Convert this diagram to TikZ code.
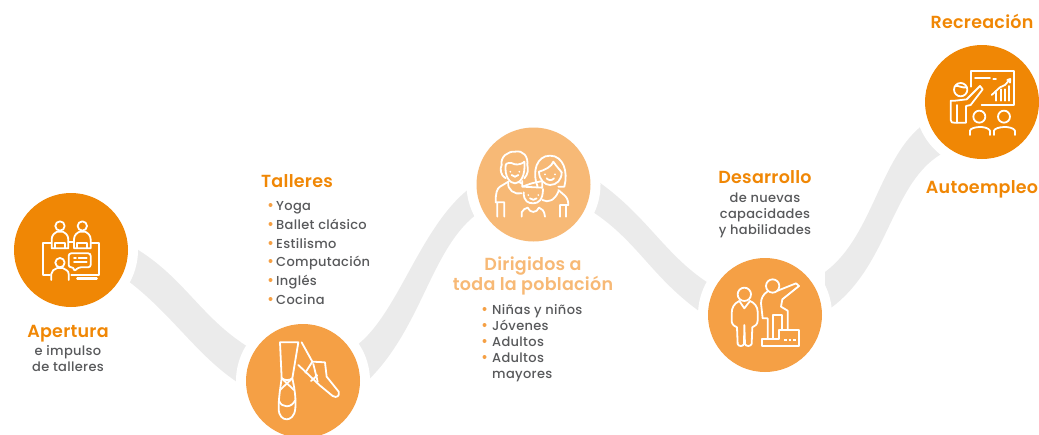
\documentclass[tikz,border=0pt]{standalone}
\usepackage{fontspec}
\setmainfont{Poppins}
\newfontfamily\bodyface[LetterSpace=2.5]{Poppins Medium}
\newfontfamily\titleface[LetterSpace=1.5]{Poppins SemiBold}
\definecolor{deep}{HTML}{F08705}
\definecolor{mid}{HTML}{F5A045}
\definecolor{pale}{HTML}{F7B976}
\definecolor{band}{HTML}{EBEBEB}
\definecolor{ink}{HTML}{58595B}
\tikzset{
  x=1pt,y=-1pt,
  disc/.style={circle,inner sep=0pt,minimum size=114pt},
  ring/.style={fill=white,draw=none},
  ribbon/.style={fill=band,draw=none},
  icon/.style={draw=white,line width=1.8pt,line join=round,line cap=round,fill=none},
  title/.style={font=\fontsize{17.5}{18}\titleface,text=deep,inner sep=0pt,text height=13pt,text depth=4pt,yshift=-2pt},
  body/.style={font=\fontsize{13}{13}\bodyface,text=ink,inner sep=0pt,text height=9pt,text depth=3pt,yshift=-2pt},
  lbody/.style={body,anchor=west},
  zoomed/.style={x=0.3333pt,y=-0.3333pt}
}
\begin{document}
\begin{tikzpicture}
\useasboundingbox (0,0) rectangle (1039,434);
% ribbons
\fill[ribbon] (128,244) .. controls (185,275) and (200,320) .. (255,351) -- (240,384) .. controls (195,355) and (170,310) .. (120,275) -- cycle;
\fill[ribbon] (350,350) .. controls (400,320) and (420,215) .. (482,180) -- (486,208) .. controls (430,240) and (425,330) .. (362,386) -- cycle;
\fill[ribbon] (590,176) .. controls (650,215) and (665,260) .. (720,290) -- (712,320) .. controls (650,280) and (640,240) .. (585,207) -- cycle;
\fill[ribbon] (825,272) .. controls (875,235) and (880,150) .. (930,120) -- (945,152) .. controls (890,180) and (890,270) .. (825,312) -- cycle;
% white rings
\fill[ring] (71,250) circle (67);
\fill[ring] (303,381) circle (67);
\fill[ring] (533.5,184.5) circle (67);
\fill[ring] (765,315) circle (67);
\fill[ring] (982,102) circle (67);
% discs
\node[disc,fill=deep] (d1) at (71,250) {};
\node[disc,fill=mid] (d2) at (303,381) {};
\node[disc,fill=pale] (d3) at (533.5,184.5) {};
\node[disc,fill=mid] (d4) at (765,315) {};
\node[disc,fill=deep] (d5) at (982,102) {};
% icon 1
\begin{scope}[shift={(0,180)},zoomed]
\draw[icon] (180,138) circle (14);
\draw[icon] (247,138) circle (14);
\draw[icon] (155,205) -- (155,178) .. controls (155,165) and (165,158) .. (172,155) -- (188,155) .. controls (195,158) and (205,165) .. (205,178) -- (205,205) -- cycle;
\draw[icon] (222,205) -- (222,178) .. controls (222,165) and (232,158) .. (239,155) -- (255,155) .. controls (262,158) and (272,165) .. (272,178) -- (272,205) -- cycle;
\draw[icon] (205,185) -- (222,185);
\draw[icon] (165,205) -- (165,190) -- (195,190) -- (195,205);
\draw[icon] (232,205) -- (232,190) -- (262,190) -- (262,205);
\draw[icon] (152,188) -- (128,188) -- (128,285) -- (150,285);
\draw[icon] (275,188) -- (298,188) -- (298,285) -- (214,285);
\draw[icon,line width=2.4pt] (232,295) -- (290,295);
\draw[icon] (180,248) circle (14);
\draw[icon] (154,300) -- (154,282) .. controls (154,272) and (163,268) .. (172,264) -- (188,264) .. controls (196,268) and (206,272) .. (206,282) -- (206,300);
\draw[icon,rounded corners=2.5pt] (222,262) -- (206,262) -- (206,220) -- (272,220) -- (272,262) -- (235,262) -- (222,275) -- cycle;
\draw[icon] (222,235) -- (228,235) (236,235) -- (260,235) (222,247) -- (260,247);
\end{scope}
% icon 2
\begin{scope}[shift={(230,310)},zoomed]
\draw[icon] (150,97) -- (205,97) -- (187,205) .. controls (195,240) and (198,270) .. (196,295) .. controls (194,320) and (180,328) .. (170,328) .. controls (158,328) and (146,318) .. (146,295) .. controls (146,265) and (150,240) .. (155,205) -- cycle;
\draw[icon] (155,205) -- (192,240) (187,205) -- (150,240);
\draw[icon] (155,205) .. controls (165,212) and (178,212) .. (187,205);
\draw[icon] (147,272) .. controls (155,295) and (185,295) .. (196,270);
\draw[icon] (215,97) -- (247,155) -- (285,157) -- (290,200) -- (326,245) .. controls (330,258) and (320,265) .. (308,258) -- (268,225) -- (205,165);
\draw[icon] (247,155) -- (226,188) (250,162) -- (263,215) (243,213) -- (262,196);
\end{scope}
% icon 3
\begin{scope}[shift={(465,115)},zoomed]
% father
\draw[icon] (122,190) .. controls (105,180) and (105,160) .. (110,150) .. controls (105,125) and (130,108) .. (150,110) .. controls (175,105) and (190,125) .. (187,150) .. controls (190,165) and (190,175) .. (178,190);
\draw[icon] (122,150) .. controls (122,145) and (135,140) .. (150,148) .. controls (160,150) and (175,145) .. (178,140);
\draw[icon] (122,150) .. controls (118,185) and (135,205) .. (150,205) .. controls (165,205) and (182,185) .. (178,140);
\draw[icon] (136,170) -- (136,170.5) (163,170) -- (163,170.5) (140,180) .. controls (145,187) and (155,187) .. (160,180);
\draw[icon] (130,200) -- (105,215) .. controls (95,222) and (92,235) .. (92,262) -- (118,262) -- (118,305) (97,262) -- (97,305);
\draw[icon] (130,200) .. controls (125,225) and (150,240) .. (170,235);
\draw[icon] (170,205) -- (160,200);
% mother
\draw[icon] (218,215) .. controls (200,170) and (215,122) .. (255,122) .. controls (295,122) and (310,170) .. (298,215) -- (280,215);
\draw[icon] (222,170) .. controls (240,165) and (260,155) .. (265,140) .. controls (275,155) and (285,165) .. (290,172);
\draw[icon] (222,170) .. controls (222,195) and (240,210) .. (255,210) .. controls (275,210) and (290,195) .. (290,172);
\draw[icon] (240,178) -- (240,178.5) (270,178) -- (270,178.5) (245,190) .. controls (250,197) and (262,197) .. (267,190);
\draw[icon] (280,225) -- (295,238) .. controls (305,245) and (310,255) .. (310,270) -- (285,270) -- (285,305) (303,270) -- (303,305);
\draw[icon] (232,255) .. controls (250,265) and (270,255) .. (280,230);
% child
\draw[icon] (172,198) -- (172,215) -- (200,205) -- (232,198) -- (232,218) -- (172,215);
\draw[icon] (176,232) .. controls (176,260) and (190,265) .. (205,265) .. controls (220,265) and (234,255) .. (234,222);
\draw[icon] (190,240) -- (190,240.5) (220,240) -- (220,240.5) (195,250) .. controls (200,256) and (210,256) .. (215,250);
\draw[icon] (170,305) -- (170,292) .. controls (172,282) and (182,282) .. (188,278) (222,278) .. controls (230,282) and (238,285) .. (240,305);
\draw[icon] (188,278) .. controls (195,295) and (215,295) .. (222,278);
\end{scope}
% icon 4
\begin{scope}[shift={(695,250)},zoomed]
\draw[icon] (148,133) circle (20);
\draw[icon] (133,153) .. controls (118,160) and (110,172) .. (110,190) -- (110,215) .. controls (112,225) and (120,230) .. (126,232) -- (128,282) .. controls (130,290) and (145,290) .. (147,282) -- (148,225) -- (150,282) .. controls (152,290) and (167,290) .. (170,282) -- (172,232) .. controls (180,230) and (188,222) .. (188,212) -- (188,185) .. controls (188,170) and (178,158) .. (165,153);
\draw[icon] (133,153) -- (148,175) -- (165,153);
\draw[icon] (233,108) circle (20);
\draw[icon] (217,125) .. controls (205,132) and (198,145) .. (198,160) -- (203,205) -- (218,205) -- (218,265);
\draw[icon] (248,122) -- (303,100) -- (312,108) -- (262,148) -- (258,170) -- (278,182) -- (278,238);
\draw[icon] (235,265) -- (235,195) -- (260,195) -- (260,240);
\draw[icon] (200,287) -- (200,266) -- (252,266) -- (252,240) -- (312,240) -- (312,287) -- cycle;
\draw[icon,line width=2.2pt,line cap=butt] (267,271) -- (276,271) (281,271) -- (289,271) (294,271) -- (302,271);
\end{scope}
% icon 5
\begin{scope}[shift={(910,30)},zoomed]
\draw[icon] (183,170) -- (183,122) -- (312,122) -- (312,225) -- (215,225);
\draw[icon] (195,145) -- (240,145) (250,147) -- (258,147);
\draw[icon] (245,195) -- (270,172) -- (285,165) -- (300,148) (292,150) -- (301,147) -- (300,158);
\draw[icon] (258,212) -- (258,188) (272,212) -- (272,178) (285,212) -- (285,178) (298,212) -- (298,168);
\draw[icon] (152,179) circle (20);
\draw[icon] (136,168) .. controls (145,165) and (155,175) .. (170,172);
\draw[icon] (136,212) -- (122,212) -- (122,270) .. controls (122,278) and (128,278) .. (132,278) -- (168,278) -- (168,228) -- (182,225) -- (218,178) -- (210,168) -- (170,208) -- (136,212);
\draw[icon] (140,225) -- (140,278);
\draw[icon] (208,260) circle (18);
\draw[icon] (282,260) circle (18);
\draw[icon] (180,315) -- (180,302) .. controls (182,290) and (230,285) .. (240,302) -- (240,315);
\draw[icon] (252,315) -- (252,302) .. controls (255,290) and (305,285) .. (315,302) -- (315,315);
\end{scope}
% bullets
\foreach \yy in {205,224,243,261,280,299} \fill[mid] (270.5,\yy) circle (2);
\foreach \yy in {309,325,341,357} \fill[mid] (484.5,\yy) circle (2);
% text
\node[title] (t1) at (68,331) {Apertura};
\node[body] (t1a) at (68,350) {e impulso};
\node[body] (t1b) at (68,366) {de talleres};
\node[title] (t2) at (297,181) {Talleres};
\node[lbody] (l1) at (276,205) {Yoga};
\node[lbody] (l2) at (276,224) {Ballet clásico};
\node[lbody] (l3) at (276,243) {Estilismo};
\node[lbody] (l4) at (276,261) {Computación};
\node[lbody] (l5) at (276,280) {Inglés};
\node[lbody] (l6) at (276,299) {Cocina};
\node[title,text=pale] (t3) at (533,264) {Dirigidos a};
\node[title,text=pale] (t3b) at (533,284) {toda la población};
\node[lbody] (p1) at (492,309) {Niñas y niños};
\node[lbody] (p2) at (492,325) {Jóvenes};
\node[lbody] (p3) at (492,341) {Adultos};
\node[lbody] (p4) at (492,357) {Adultos};
\node[lbody] (p5) at (492,373) {mayores};
\node[title] (t4) at (765,177) {Desarrollo};
\node[body] (t4a) at (765,197) {de nuevas};
\node[body] (t4b) at (765,213) {capacidades};
\node[body] (t4c) at (765,229) {y habilidades};
\node[title] (t5) at (982,22) {Recreación};
\node[title] (t6) at (982,187) {Autoempleo};
\end{tikzpicture}
\end{document}
